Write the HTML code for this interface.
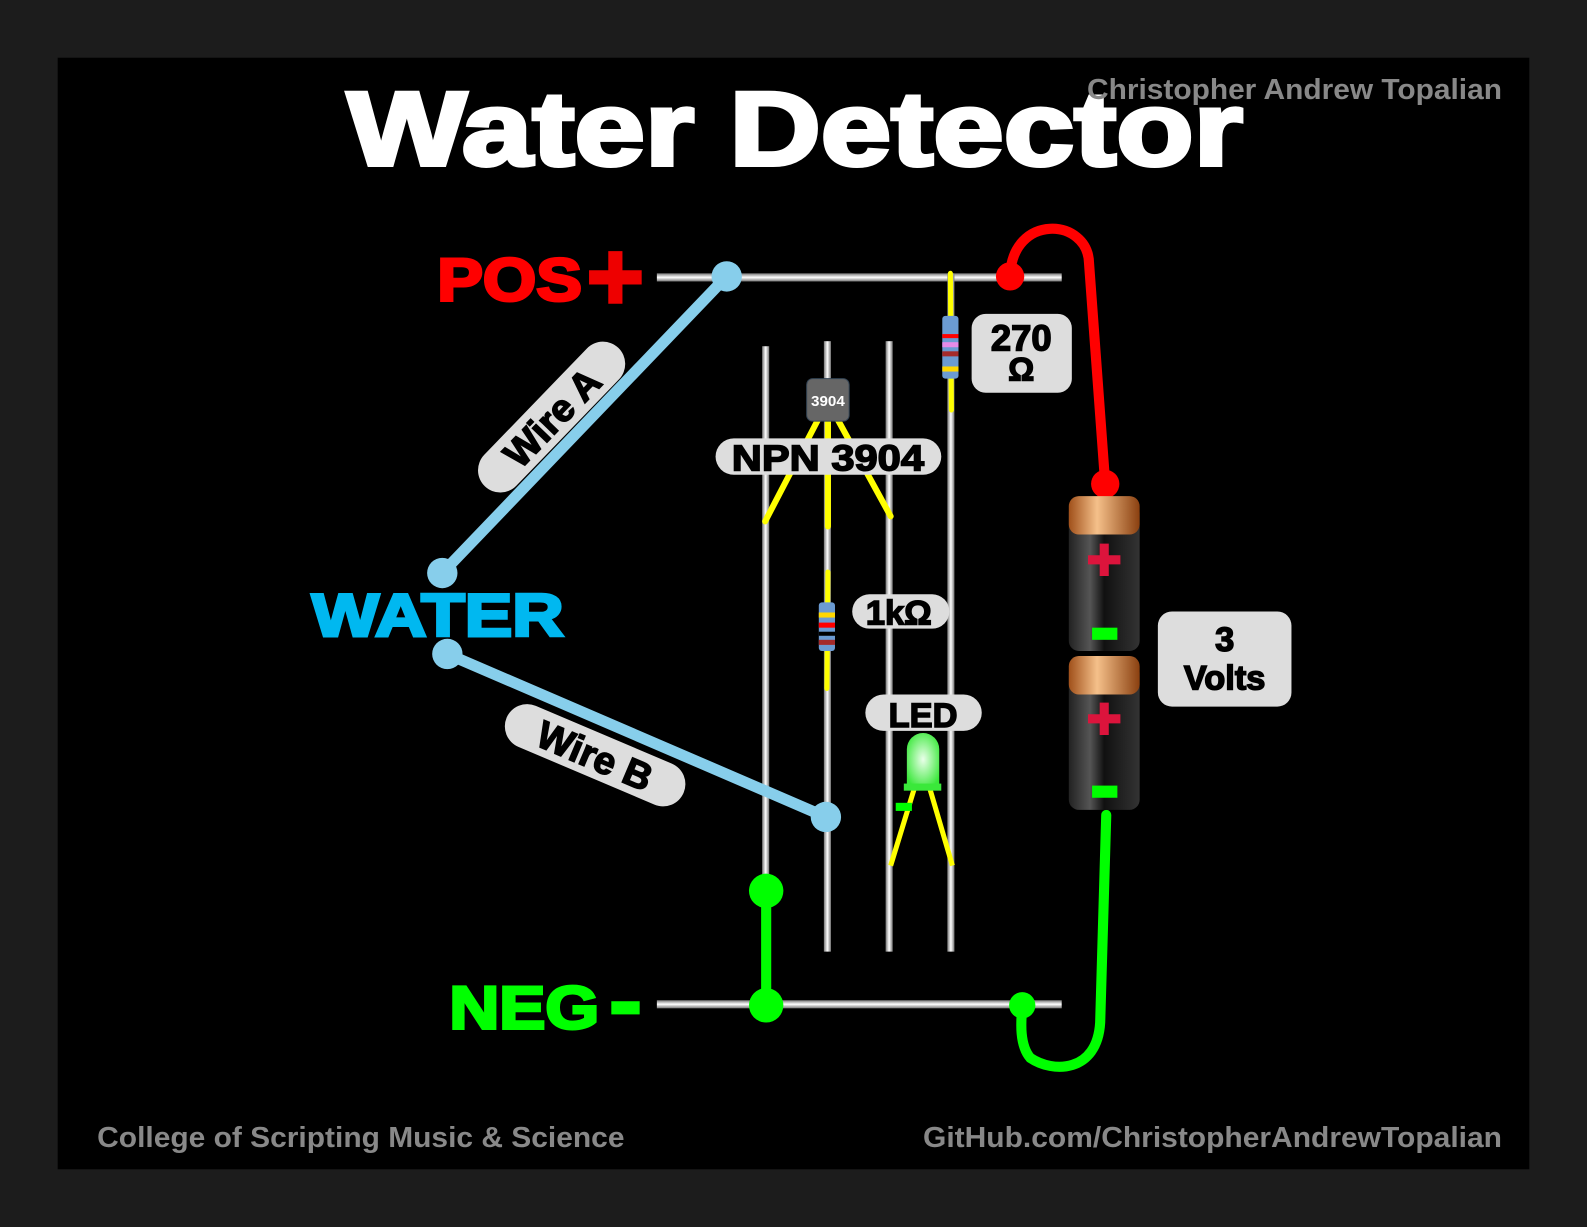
<!DOCTYPE html>
<html><head><meta charset="utf-8"><style>
html,body{margin:0;padding:0;background:#1c1c1c;}
svg{display:block;}
text{font-family:"Liberation Sans",Arial,sans-serif;font-weight:bold;}
</style></head><body>
<svg width="1587" height="1227" viewBox="0 0 1568 1212" preserveAspectRatio="none">
<defs>
<linearGradient id="rodV" x1="0" x2="1" y1="0" y2="0"><stop offset="0" stop-color="#777"/><stop offset="0.5" stop-color="#fff"/><stop offset="1" stop-color="#777"/></linearGradient>
<linearGradient id="rodH" x1="0" x2="0" y1="0" y2="1"><stop offset="0" stop-color="#777"/><stop offset="0.5" stop-color="#fff"/><stop offset="1" stop-color="#777"/></linearGradient>
<linearGradient id="copper" x1="0" x2="1"><stop offset="0" stop-color="#a0501a"/><stop offset="0.4" stop-color="#f5c08a"/><stop offset="1" stop-color="#8a4010"/></linearGradient>
<linearGradient id="batt" x1="0" x2="1"><stop offset="0" stop-color="#222"/><stop offset="0.3" stop-color="#555"/><stop offset="0.5" stop-color="#111"/><stop offset="1" stop-color="#333"/></linearGradient>
<radialGradient id="led" cx="0.5" cy="0.5" r="0.6"><stop offset="0" stop-color="#eaffea"/><stop offset="1" stop-color="#3ae83a"/></radialGradient>
</defs>
<rect x="57" y="57" width="1454" height="1098" fill="#000"/>
<text x="343" y="163" font-size="104" fill="#fff" stroke="#fff" stroke-width="4" textLength="885" lengthAdjust="spacingAndGlyphs">Water Detector</text>
<text x="1074" y="98" font-size="28" fill="#888" textLength="410" lengthAdjust="spacingAndGlyphs">Christopher Andrew Topalian</text>
<text x="96" y="1133" font-size="28" fill="#888" textLength="521" lengthAdjust="spacingAndGlyphs">College of Scripting Music &amp; Science</text>
<text x="912" y="1133" font-size="28" fill="#888" textLength="572" lengthAdjust="spacingAndGlyphs">GitHub.com/ChristopherAndrewTopalian</text>

<rect x="649" y="270" width="400" height="8" fill="url(#rodH)"/>
<rect x="649" y="988" width="400" height="8" fill="url(#rodH)"/>
<g>
<rect x="753" y="342" width="7" height="598" fill="url(#rodV)"/>
<rect x="814" y="337" width="7" height="603" fill="url(#rodV)"/>
<rect x="875" y="337" width="7" height="603" fill="url(#rodV)"/>
<rect x="936" y="270" width="7" height="670" fill="url(#rodV)"/>
</g>
<text x="432" y="297" font-size="60" fill="#f00" stroke="#f00" stroke-width="3" textLength="143" lengthAdjust="spacingAndGlyphs">POS</text>
<path d="M582 274h52M608 248v52" stroke="#e00" stroke-width="14"/>
<text x="444" y="1016" font-size="60" fill="#0f0" stroke="#0f0" stroke-width="3" textLength="148" lengthAdjust="spacingAndGlyphs">NEG</text>
<rect x="604" y="989" width="28" height="13" fill="#0f0"/>
<text x="308" y="628" font-size="60" fill="#00b8f0" stroke="#00b8f0" stroke-width="3" textLength="249" lengthAdjust="spacingAndGlyphs">WATER</text>

<g stroke="#87ceeb" stroke-width="11" stroke-linecap="round" fill="#87ceeb">
<line x1="718" y1="273" x2="437" y2="566"/>
<line x1="442" y1="646" x2="816" y2="807"/>
<circle cx="718" cy="273" r="15" stroke="none"/><circle cx="437" cy="566" r="15" stroke="none"/>
<circle cx="442" cy="646" r="15" stroke="none"/><circle cx="816" cy="807" r="15" stroke="none"/>
</g>
<g transform="translate(545,412) rotate(-46)"><rect x="-95" y="-22" width="190" height="44" rx="22" fill="#ddd"/><text y="14" font-size="38" text-anchor="middle" fill="#000" stroke="#000" stroke-width="1.5">Wire A</text></g>
<g transform="translate(588,746) rotate(23)"><rect x="-95" y="-22" width="190" height="44" rx="22" fill="#ddd"/><text y="14" font-size="38" text-anchor="middle" fill="#000" stroke="#000" stroke-width="1.5">Wire B</text></g>

<g stroke="#ff0" stroke-width="6" stroke-linecap="round" fill="none">
<path d="M808 415 L756 515"/><path d="M818 415 L818 520"/><path d="M828 415 L880 510"/>
</g>
<rect x="797" y="374" width="42" height="42" rx="6" fill="#666" stroke="#345"/>
<text x="818" y="397" font-size="15" fill="#fff" text-anchor="middle" dominant-baseline="middle">3904</text>
<rect x="707" y="433" width="223" height="36" rx="18" fill="#ddd"/>
<text x="723" y="465" font-size="36" fill="#000" stroke="#000" stroke-width="1.5" textLength="190" lengthAdjust="spacingAndGlyphs">NPN 3904</text>

<line x1="939" y1="270" x2="940" y2="405" stroke="#ff0" stroke-width="5" stroke-linecap="round"/>
<g>
<rect x="931" y="312" width="16" height="62" rx="3" fill="#6b9bd2"/>
<rect x="931" y="330" width="16" height="4" fill="#f00"/><rect x="931" y="338" width="16" height="5" fill="#e78be7"/><rect x="931" y="347" width="16" height="5" fill="#a52a2a"/><rect x="931" y="362" width="16" height="5" fill="#ffd700"/>
</g>
<rect x="960" y="310" width="99" height="78" rx="14" fill="#ddd"/>
<text x="1009" y="346" font-size="36" text-anchor="middle" fill="#000" stroke="#000" stroke-width="1.5">270</text>
<text x="1009" y="376" font-size="32" text-anchor="middle" fill="#000" stroke="#000" stroke-width="1.5">Ω</text>

<line x1="818" y1="565" x2="817" y2="680" stroke="#ff0" stroke-width="5" stroke-linecap="round"/>
<g>
<rect x="809" y="595" width="16" height="48" rx="3" fill="#6b9bd2"/>
<rect x="809" y="605" width="16" height="5" fill="#ffd700"/><rect x="809" y="615" width="16" height="5" fill="#f00"/><rect x="809" y="624" width="16" height="4" fill="#000"/><rect x="809" y="632" width="16" height="5" fill="#a52a2a"/>
</g>
<rect x="842" y="587" width="96" height="34" rx="17" fill="#ddd"/>
<text x="888" y="617" font-size="34" text-anchor="middle" fill="#000" stroke="#000" stroke-width="1.5">1kΩ</text>

<rect x="855" y="686" width="115" height="36" rx="18" fill="#ddd"/>
<text x="912" y="718" font-size="34" text-anchor="middle" fill="#000" stroke="#000" stroke-width="1.5">LED</text>
<g>
<path d="M903 780 L880 855 M919 780 L941 855" stroke="#ff0" stroke-width="5" fill="none"/>
<path d="M896 776 v-36 a16 16 0 0 1 32 0 v36z" fill="url(#led)"/>
<rect x="893" y="774" width="37" height="7" fill="#3ae83a"/>
<rect x="885" y="793" width="16" height="8" fill="#0f0"/>
</g>

<path d="M998 273 C1000 210 1075 215 1076 260 L1092 478" stroke="#f00" stroke-width="10" fill="none" stroke-linecap="round"/>
<circle cx="998" cy="273" r="14" fill="#f00"/><circle cx="1092" cy="478" r="14" fill="#f00"/>
<path d="M1093 805 L1087 1010 C1084 1060 1040 1060 1018 1045 C1005 1030 1010 1000 1010 993" stroke="#0f0" stroke-width="10" fill="none" stroke-linecap="round"/>
<circle cx="1010" cy="993" r="13" fill="#0f0"/>
<path d="M757 880 L757 993" stroke="#0f0" stroke-width="10"/>
<circle cx="757" cy="880" r="17" fill="#0f0"/><circle cx="757" cy="993" r="17" fill="#0f0"/>

<g>
<rect x="1056" y="497" width="70" height="146" rx="10" fill="url(#batt)"/>
<rect x="1056" y="490" width="70" height="38" rx="10" fill="url(#copper)"/>
<path d="M1091 537v32M1075 553h32" stroke="#dc143c" stroke-width="9"/>
<rect x="1079" y="620" width="25" height="12" fill="#0f0"/>
</g>
<g>
<rect x="1056" y="655" width="70" height="145" rx="10" fill="url(#batt)"/>
<rect x="1056" y="648" width="70" height="38" rx="10" fill="url(#copper)"/>
<path d="M1091 694v32M1075 710h32" stroke="#dc143c" stroke-width="9"/>
<rect x="1079" y="776" width="25" height="12" fill="#0f0"/>
</g>
<rect x="1144" y="604" width="132" height="94" rx="14" fill="#ddd"/>
<text x="1210" y="643" font-size="34" text-anchor="middle" fill="#000" stroke="#000" stroke-width="1.5">3</text>
<text x="1210" y="681" font-size="34" text-anchor="middle" fill="#000" stroke="#000" stroke-width="1.5">Volts</text>
</svg>
</body></html>
